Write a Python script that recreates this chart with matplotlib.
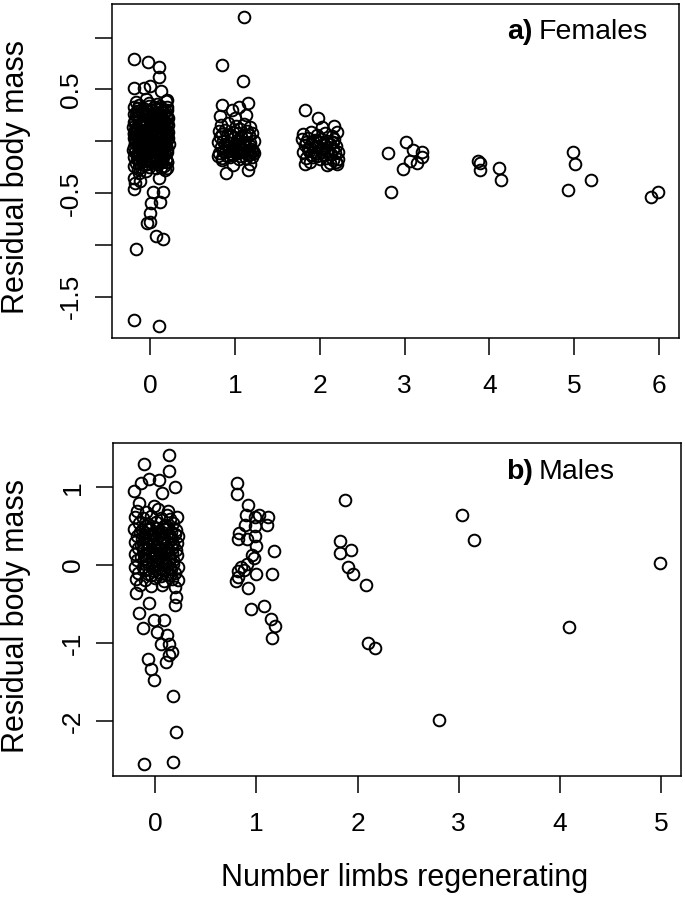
import matplotlib
matplotlib.use("Agg")
import matplotlib.pyplot as plt

plt.rcParams['font.family'] = ['Liberation Sans', 'DejaVu Sans']

# ---- females (panel a) ----
fem_x = [
    # 0 limbs, outer points
    -0.19, -0.03, 0.10, 0.10, -0.20, -0.08, 0.00, 0.13, 0.19, -0.20, -0.14, -0.20, 0.03, 0.15,
    0.01, 0.11, -0.01, -0.04, 0.00, 0.06, 0.15, -0.17, -0.19, 0.10, 0.10, 0.19, -0.18, -0.12,
    # 0 limbs, dense core
    -0.17, -0.05, 0.08, 0.18,
    -0.19, -0.11, -0.02, 0.06, 0.14, 0.20,
    -0.20, -0.13, -0.07, 0.01, 0.09, 0.16, 0.21,
    -0.18, -0.10, -0.04, 0.03, 0.11, 0.18,
    -0.21, -0.15, -0.08, -0.01, 0.05, 0.12, 0.19,
    -0.19, -0.12, -0.06, 0.02, 0.08, 0.15, 0.21,
    -0.20, -0.14, -0.07, 0.00, 0.06, 0.13, 0.19,
    -0.18, -0.11, -0.03, 0.04, 0.10, 0.17, 0.22,
    -0.21, -0.13, -0.06, 0.01, 0.08, 0.14, 0.20,
    -0.19, -0.10, -0.02, 0.05, 0.12, 0.18,
    -0.17, -0.08, 0.02, 0.09, 0.16,
    -0.15, -0.05, 0.07, 0.17,
    -0.14, -0.02, 0.11,
    -0.16, -0.09, 0.02, 0.10, 0.17,
    -0.16, -0.01, 0.06, 0.13, 0.19,
    -0.14, -0.07, 0.00, 0.08, 0.15, 0.21,
    -0.18, -0.11, -0.04, 0.03, 0.09, 0.16,
    -0.16, -0.09, -0.02, 0.05, 0.11, 0.18,
    -0.17, -0.10, -0.04, 0.03, 0.09, 0.16,
    -0.20, -0.15, -0.07, 0.00, 0.07, 0.13, 0.19,
    -0.16, -0.09, -0.03, 0.04, 0.11, 0.17,
    -0.14, -0.06, 0.00, 0.07, 0.14, 0.20,
    -0.19, -0.11, -0.02, 0.12, 0.20,
    -0.15, -0.06, 0.04, 0.12, 0.19,
    -0.17, -0.10, -0.03, 0.05, 0.12, 0.18,
    -0.20, -0.13, -0.06, 0.01, 0.07, 0.14, 0.20,
    -0.17, -0.10, -0.03, 0.04, 0.10, 0.17,
    -0.20, -0.13, -0.07, 0.00, 0.06, 0.12, 0.19,
    -0.18, -0.11, -0.05, 0.02, 0.08, 0.14, 0.21,
    -0.15, -0.08, -0.01, 0.06, 0.12, 0.18,
    -0.18, -0.11, -0.04, 0.03, 0.10, 0.16,
    -0.16, -0.07, 0.01, 0.08, 0.15,
    -0.13, -0.04, 0.05, 0.14,
    # 1 limb
    1.11, 0.84, 1.09, 0.84, 1.15, 0.96, 1.05, 1.13, 0.82, 1.00, 0.89, 0.98, 1.15, 1.18, 0.84, 0.80, 1.21,
    0.83, 0.92, 1.01, 1.10, 1.18,
    0.81, 0.88, 0.97, 1.06, 1.14, 1.20,
    0.82, 0.90, 0.99, 1.07, 1.16,
    0.80, 0.86, 0.94, 1.02, 1.09, 1.17, 1.22,
    0.83, 0.91, 0.98, 1.05, 1.12, 1.19,
    0.81, 0.88, 0.96, 1.03, 1.10, 1.17, 1.22,
    0.85, 0.94, 1.04, 1.13, 1.20,
    0.88, 1.00, 1.12, 0.95, 1.08,
    0.90, 0.97, 1.04, 1.11, 1.18,
    0.86, 0.93, 1.00, 1.07, 1.14, 1.20,
    0.90, 0.98, 1.06, 1.15,
    0.85, 0.95, 1.03, 1.12,
    # 2 limbs
    1.83, 1.98, 2.17, 2.20, 2.02, 1.82, 2.08, 2.20,
    1.80, 1.89, 1.97, 2.06, 2.14,
    1.79, 1.86, 1.94, 2.01, 2.09, 2.17,
    1.82, 1.90, 1.98, 2.05, 2.12, 2.19,
    1.80, 1.87, 1.95, 2.03, 2.10, 2.18, 2.22,
    1.84, 1.92, 2.00, 2.07, 2.15, 2.21,
    1.88, 2.12, 2.19,
    1.84, 1.92, 2.00, 2.08, 2.15,
    1.86, 1.94, 2.02, 2.09, 2.16,
    1.89, 1.97, 2.05, 2.13,
    # 3 limbs
    2.81, 2.84, 3.02, 3.10, 3.21, 3.21, 3.06, 3.15, 2.98,
    # 4 limbs
    3.87, 3.89, 3.89, 4.12, 4.14,
    # 5 limbs
    4.99, 5.01, 5.20, 4.93,
    # 6 limbs
    5.91, 5.99,
]
fem_y = [
    0.79, 0.76, 0.72, 0.62, 0.51, 0.51, 0.53, 0.48, 0.40, -0.35, -0.31, -0.46, -0.49, -0.49,
    -0.60, -0.59, -0.69, -0.79, -0.78, -0.91, -0.94, -1.04, -1.72, -1.78, -0.35, -0.20, -0.40, -0.38,
    0.38, 0.41, 0.36, 0.39,
    0.33, 0.30, 0.34, 0.31, 0.29, 0.33,
    0.26, 0.24, 0.27, 0.25, 0.23, 0.27, 0.22,
    0.20, 0.19, 0.17, 0.21, 0.18, 0.16,
    0.14, 0.12, 0.15, 0.11, 0.13, 0.14, 0.10,
    0.08, 0.07, 0.09, 0.05, 0.08, 0.06, 0.09,
    0.03, 0.01, 0.04, 0.02, 0.00, 0.03, 0.01,
    -0.02, -0.04, -0.03, -0.05, -0.02, -0.04, -0.03,
    -0.08, -0.10, -0.09, -0.07, -0.11, -0.08, -0.10,
    -0.15, -0.14, -0.16, -0.13, -0.15, -0.17,
    -0.21, -0.23, -0.20, -0.22, -0.24,
    -0.27, -0.29, -0.26, -0.28,
    0.35, 0.37, 0.34,
    0.29, 0.28, 0.30, 0.27, 0.29,
    0.23, 0.22, 0.24, 0.21, 0.23,
    0.17, 0.16, 0.18, 0.15, 0.17, 0.16,
    0.11, 0.10, 0.12, 0.09, 0.10, 0.11,
    0.05, 0.06, 0.04, 0.06, 0.05, 0.04,
    0.00, -0.01, 0.01, -0.01, 0.02, -0.01,
    -0.06, -0.05, -0.06, -0.07, -0.05, -0.06, -0.07,
    -0.12, -0.13, -0.11, -0.12, -0.13, -0.12,
    -0.18, -0.19, -0.18, -0.19, -0.18, -0.20,
    -0.24, -0.25, -0.25, -0.25, -0.26,
    0.32, 0.31, 0.33, 0.32, 0.30,
    0.25, 0.26, 0.24, 0.26, 0.25, 0.24,
    0.19, 0.20, 0.18, 0.19, 0.20, 0.19, 0.18,
    0.13, 0.14, 0.12, 0.13, 0.14, 0.12,
    0.07, 0.08, 0.06, 0.07, 0.07, 0.08, 0.06,
    0.02, 0.03, 0.02, 0.01, 0.03, 0.02, 0.03,
    -0.04, -0.03, -0.04, -0.03, -0.04, -0.05,
    -0.10, -0.09, -0.10, -0.09, -0.08, -0.10,
    -0.16, -0.15, -0.14, -0.16, -0.15,
    -0.21, -0.22, -0.21, -0.20,
    1.20, 0.74, 0.58, 0.35, 0.37, 0.30, 0.33, 0.25, 0.24, 0.22, -0.31, -0.23, -0.28, -0.22, -0.18, -0.14, -0.09,
    0.16, 0.18, 0.15, 0.17, 0.14,
    0.10, 0.11, 0.09, 0.12, 0.10, 0.08,
    0.04, 0.05, 0.03, 0.04, 0.06,
    -0.01, 0.00, -0.02, 0.01, -0.01, -0.02, 0.00,
    -0.06, -0.05, -0.07, -0.06, -0.05, -0.07,
    -0.11, -0.10, -0.12, -0.11, -0.10, -0.12, -0.11,
    -0.16, -0.15, -0.17, -0.16, -0.15,
    -0.03, -0.04, -0.03, -0.09, -0.08,
    -0.04, -0.05, -0.03, -0.04, -0.05,
    -0.09, -0.08, -0.09, -0.10, -0.08, -0.09,
    -0.14, -0.13, -0.14, -0.13,
    0.07, 0.06, 0.08, 0.06,
    0.30, 0.22, 0.15, 0.09, 0.14, -0.22, -0.23, -0.22,
    0.07, 0.09, 0.06, 0.08, 0.05,
    0.02, 0.03, 0.01, 0.02, 0.00, 0.02,
    -0.04, -0.03, -0.05, -0.04, -0.03, -0.05,
    -0.10, -0.09, -0.11, -0.10, -0.09, -0.11, -0.10,
    -0.16, -0.15, -0.17, -0.16, -0.18, -0.17,
    -0.20, -0.21, -0.20,
    -0.01, 0.00, -0.01, -0.02, -0.01,
    -0.07, -0.06, -0.07, -0.08, -0.07,
    -0.13, -0.14, -0.13, -0.12,
    -0.11, -0.49, -0.01, -0.08, -0.10, -0.15, -0.19, -0.21, -0.27,
    -0.19, -0.21, -0.28, -0.26, -0.37,
    -0.10, -0.22, -0.37, -0.47,
    -0.54, -0.49,
]

# ---- males (panel b) ----
male_x = [
    # 0 limbs, outer points
    0.14, -0.11, 0.14, 0.04, -0.06, -0.14, 0.19, -0.21, 0.07, -0.16, -0.01, 0.12,
    -0.19, 0.20, -0.06, 0.19, -0.16, -0.01, 0.09, -0.12, 0.02, 0.12, 0.06, 0.14,
    0.17, 0.11, -0.07, -0.04, -0.01, 0.18, 0.20, -0.11, 0.18, 0.14, 0.19, 0.22,
    # 0 limbs, core
    -0.18, -0.09, 0.03, 0.13,
    -0.20, -0.12, -0.04, 0.06, 0.15, 0.21,
    -0.16, -0.07, 0.01, 0.10, 0.18,
    -0.21, -0.13, -0.05, 0.04, 0.12, 0.20,
    -0.18, -0.10, -0.02, 0.07, 0.15, 0.22,
    -0.20, -0.12, -0.04, 0.05, 0.13, 0.21,
    -0.17, -0.08, 0.00, 0.09, 0.17,
    -0.20, -0.11, -0.03, 0.06, 0.14, 0.21,
    -0.18, -0.09, 0.01, 0.10, 0.18,
    -0.20, -0.12, -0.03, 0.06, 0.15, 0.22,
    -0.17, -0.07, 0.03, 0.12, 0.19,
    -0.19, -0.10, 0.00, 0.09, 0.17,
    -0.15, -0.04, 0.07,
    -0.10, 0.08, -0.15, 0.00, 0.16, -0.07, 0.09, -0.14, 0.02, 0.18, -0.05, 0.11, -0.14, 0.04,
    -0.06, 0.02, 0.13,
    -0.09, -0.02, 0.07, 0.19,
    -0.13, 0.01, 0.16,
    -0.08, -0.01, 0.09, 0.17,
    -0.12, 0.05, 0.13, 0.20,
    -0.07, 0.01, 0.09, 0.17,
    -0.11, -0.03, 0.06, 0.14,
    -0.07, 0.02, 0.10, 0.18,
    -0.10, -0.01, 0.08, 0.16,
    -0.04, 0.06, 0.15,
    # 1 limb
    0.81, 0.81, 0.92, 0.90, 0.99, 1.03, 1.11, 1.10, 0.99, 0.89, 0.83, 0.82, 0.91, 0.99, 1.00, 0.96,
    1.17, 0.85, 0.88, 0.82, 0.80, 0.82, 1.00, 1.15, 0.92, 0.95, 1.08, 1.14, 1.18, 1.15, 0.98, 0.91,
    # 2 limbs
    1.88, 1.83, 1.83, 1.94, 1.91, 1.96, 2.08, 2.10, 2.17,
    # 3 limbs
    2.81, 3.03, 3.15,
    # 4 limbs
    4.09,
    # 5 limbs
    4.99,
]
male_y = [
    1.41, 1.30, 1.21, 1.09, 1.11, 1.06, 1.00, 0.95, 0.93, 0.80, 0.76, 0.65,
    -0.36, -0.41, -0.49, -0.51, -0.62, -0.71, -0.71, -0.81, -0.86, -0.90, -1.01, -1.01,
    -1.12, -1.25, -1.20, -1.33, -1.47, -1.68, -2.14, -2.55, -2.53, -1.16, -0.28, -0.19,
    0.70, 0.68, 0.72, 0.69,
    0.62, 0.60, 0.63, 0.61, 0.59, 0.62,
    0.54, 0.53, 0.55, 0.52, 0.54,
    0.46, 0.45, 0.47, 0.44, 0.46, 0.45,
    0.38, 0.37, 0.39, 0.36, 0.38, 0.37,
    0.30, 0.29, 0.31, 0.28, 0.30, 0.29,
    0.22, 0.21, 0.23, 0.20, 0.22,
    0.14, 0.13, 0.15, 0.12, 0.14, 0.13,
    0.06, 0.05, 0.07, 0.04, 0.06,
    -0.02, -0.03, -0.01, -0.04, -0.02, -0.03,
    -0.10, -0.11, -0.09, -0.12, -0.10,
    -0.18, -0.19, -0.17, -0.20, -0.18,
    -0.26, -0.27, -0.25,
    0.50, 0.49, 0.42, 0.41, 0.43, 0.34, 0.33, 0.26, 0.25, 0.27, 0.18, 0.17, 0.10, 0.09,
    0.47, 0.48, 0.49,
    0.41, 0.40, 0.42, 0.40,
    0.34, 0.35, 0.33,
    0.28, 0.27, 0.29, 0.28,
    0.21, 0.20, 0.21, 0.19,
    0.15, 0.16, 0.15, 0.16,
    0.08, 0.09, 0.07, 0.08,
    0.01, 0.02, 0.00, 0.01,
    -0.06, -0.07, -0.06, -0.05,
    -0.13, -0.14, -0.13,
    1.05, 0.92, 0.77, 0.65, 0.62, 0.64, 0.62, 0.51, 0.50, 0.51, 0.41, 0.34, 0.33, 0.37, 0.24, 0.13,
    0.18, -0.02, -0.06, -0.15, -0.21, -0.08, -0.12, -0.12, -0.29, -0.56, -0.52, -0.69, -0.78, -0.93, 0.09, 0.02,
    0.84, 0.31, 0.16, 0.20, -0.03, -0.12, -0.26, -1.00, -1.06,
    -1.99, 0.64, 0.32,
    -0.79,
    0.03,
]

fem_ticks = [1.0, 0.5, 0.0, -0.5, -1.0, -1.5]
fem_ticklabels = ['', '0.5', '', '-0.5', '', '-1.5']
male_ticks = [1, 0, -1, -2]
male_ticklabels = ['1', '0', '-1', '-2']

fig = plt.figure(figsize=(6.85, 8.97), dpi=100)
ax1 = fig.add_axes([0.163, 0.623, 0.828, 0.372])
ax2 = fig.add_axes([0.165, 0.135, 0.829, 0.371])

marker = dict(ls='none', marker='o', mfc='none', mec='black', ms=8.4, mew=1.4)
ax1.plot(fem_x, fem_y, **marker)
ax2.plot(male_x, male_y, **marker)

for ax in (ax1, ax2):
    ax.margins(x=0.04, y=0.04)
    for s in ax.spines.values():
        s.set_linewidth(1.1)
    ax.tick_params(direction='out', length=12, width=1.1, labelsize=19)
    ax.tick_params(axis='x', pad=14)
    ax.tick_params(axis='y', pad=8.5)

ax1.set_xticks(range(0, 7))
ax1.set_yticks(fem_ticks)
ax1.set_yticklabels(fem_ticklabels, rotation=90, va='center')
ax2.set_xticks(range(0, 6))
ax2.set_yticks(male_ticks)
ax2.set_yticklabels(male_ticklabels, rotation=90, va='center')

# panel titles: bold letter + plain word
t1 = ax1.text(0.945, 0.917, 'Females', transform=ax1.transAxes, ha='right', va='center', fontsize=20.5)
ax1.annotate('a)', xy=(0, 0.5), xycoords=t1, xytext=(-4, 0), textcoords='offset points',
             ha='right', va='center', fontsize=20.5, fontweight='bold')
t2 = ax2.text(0.884, 0.914, 'Males', transform=ax2.transAxes, ha='right', va='center', fontsize=20.5)
ax2.annotate('b)', xy=(0, 0.5), xycoords=t2, xytext=(-4, 0), textcoords='offset points',
             ha='right', va='center', fontsize=20.5, fontweight='bold')

fig.text(16 / 685, 0.803, 'Residual body mass', rotation=90, ha='center', va='center', fontsize=22)
fig.text(16 / 685, 0.313, 'Residual body mass', rotation=90, ha='center', va='center', fontsize=22)
fig.text(0.59, 0.021, 'Number limbs regenerating', ha='center', va='center', fontsize=22)

fig.savefig('out.png', dpi=100)
